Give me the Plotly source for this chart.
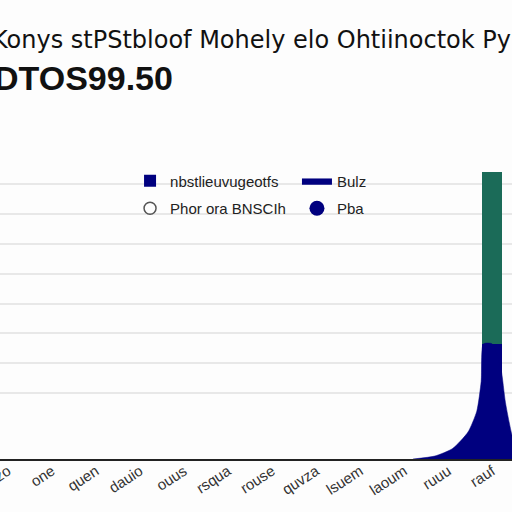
import plotly.graph_objects as go

# category labels along the x axis (as read, garbled in source)
categories = ["ezo", "one", "quen", "dauio", "ouus", "rsqua", "rouse",
              "quvza", "lsuem", "laoum", "ruuu", "rauf", "r"]

# stacked bar at the last visible category
bar_x = [11]
bar_low = [3.85]
bar_high = [5.75]

# the navy flare around the peak
flare_x = [9.2, 9.7, 10.1, 10.45, 10.65, 10.75, 10.8, 11.0, 11.2, 11.3, 11.45, 11.6]
flare_y = [0.0, 0.1, 0.35, 0.9, 1.6, 2.6, 3.85, 3.85, 3.0, 1.9, 0.8, 0.2]

grid_vals = [2.2, 3.2, 4.2, 5.2, 6.2, 7.2, 8.2, 9.2]

NAVY = "#00007f"
GREEN = "#1b6b58"
FONT = "Liberation Sans, Arial, sans-serif"
WIDE = "DejaVu Sans, Verdana, sans-serif"

fig = go.Figure()

fig.add_trace(go.Bar(
    name="nbstlieuvugeotfs", x=bar_x, y=bar_low, width=0.46,
    marker=dict(color=NAVY, line=dict(width=0)),
    legend="legend", legendgroup="a",
))
fig.add_trace(go.Scatter(
    name="Bulz", x=flare_x, y=flare_y, mode="lines", fill="tozeroy",
    line=dict(color=NAVY, width=0.5, shape="spline", smoothing=0.6),
    fillcolor=NAVY, legend="legend2", legendgroup="b",
))
fig.add_trace(go.Bar(
    name="green", x=bar_x, y=bar_high, width=0.46, showlegend=False,
    marker=dict(color=GREEN, line=dict(width=0)),
))
fig.add_trace(go.Scatter(
    name="Phor ora BNSCIh", x=[None], y=[None], mode="markers",
    marker=dict(symbol="circle-open", size=12, color="#555", line=dict(width=1.5)),
    legend="legend", legendgroup="c",
))
fig.add_trace(go.Scatter(
    name="Pba", x=[None], y=[None], mode="markers",
    marker=dict(symbol="circle", size=15, color=NAVY),
    legend="legend2", legendgroup="d",
))

legend_style = dict(
    orientation="v", y=0.985, xanchor="left", yanchor="top",
    bgcolor="rgba(0,0,0,0)", tracegroupgap=5,
    font=dict(family=FONT, size=15, color="#222"),
)

fig.update_layout(
    width=512, height=512,
    margin=dict(l=0, r=0, t=160, b=53),
    barmode="stack",
    paper_bgcolor="#fdfdfd", plot_bgcolor="#fdfdfd",
    font=dict(family=FONT, size=13, color="#222"),
    showlegend=True,
    legend=dict(x=0.254, **legend_style),
    legend2=dict(x=0.58, **legend_style),
    annotations=[
        dict(text="Konys stPStbloof Mohely elo Ohtiinoctok Py",
             xref="paper", yref="paper", x=-0.02, y=1.401,
             xanchor="left", yanchor="middle", showarrow=False,
             font=dict(family=WIDE, size=24, color="#111")),
        dict(text="<b>DTOS99.50</b>",
             xref="paper", yref="paper", x=-0.015, y=1.274,
             xanchor="left", yanchor="middle", showarrow=False,
             font=dict(family=FONT, size=34, color="#111")),
    ],
)

fig.update_xaxes(
    range=[-0.18, 11.45], automargin=False,
    tickmode="array", tickvals=list(range(len(categories))), ticktext=categories,
    tickangle=-33, tickfont=dict(size=15, color="#333"),
    ticklabeloverflow="allow", ticklabelstandoff=-4,
    showgrid=False, zeroline=False,
    showline=True, linecolor="#222", linewidth=1.5, ticks="",
)
fig.update_yaxes(
    range=[0, 10], automargin=False, tickmode="array", tickvals=grid_vals,
    showticklabels=False, gridcolor="#e8e8e8", gridwidth=1.5, zeroline=False,
)

fig.write_html("out.html", config={"displayModeBar": False},
               post_script="document.body.style.margin='0';")
